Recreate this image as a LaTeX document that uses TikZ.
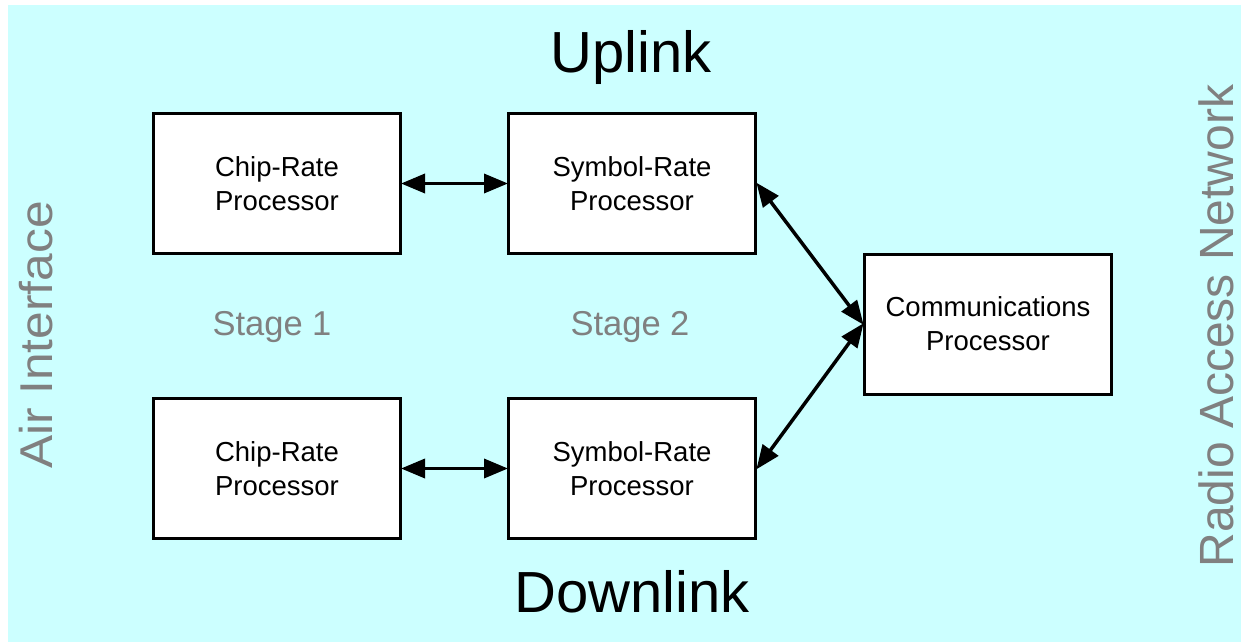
\documentclass[tikz,border=0pt]{standalone}
\usepackage{fontspec}
\setmainfont{Liberation Sans}
\usetikzlibrary{arrows.meta}
\definecolor{panelbg}{RGB}{204,255,255}
\definecolor{labelgray}{RGB}{128,128,128}
\tikzset{
  procbox/.style={draw=black, line width=3pt, fill=white, minimum width=247pt,
    minimum height=140pt, inner sep=0pt, align=center,
    font=\fontsize{27.5}{34}\selectfont},
  link/.style={line width=3.5pt,
    {Triangle[length=24pt,width=19pt]}-{Triangle[length=24pt,width=19pt]},
    shorten <=-1pt, shorten >=-1pt},
  title/.style={anchor=base, font=\fontsize{58}{60}\selectfont},
  stagelbl/.style={anchor=base, text=labelgray, font=\fontsize{34.5}{38}\selectfont},
  sidelbl/.style={anchor=base, rotate=90, text=labelgray, font=\fontsize{48}{52}\selectfont}
}
\begin{document}
\begin{tikzpicture}[x=1pt, y=-1pt]
  % page and shaded panel
  \useasboundingbox (0,0) rectangle (1241,642);
  \fill[white] (0,0) rectangle (1241,642);
  \fill[panelbg] (8,5) rectangle (1241,642);

  % processing blocks
  \node[procbox] (chipU) at (277,183.5) {Chip-Rate\\Processor};
  \node[procbox] (symU)  at (632,183.5) {Symbol-Rate\\Processor};
  \node[procbox] (chipD) at (277,468.5) {Chip-Rate\\Processor};
  \node[procbox] (symD)  at (632,468.5) {Symbol-Rate\\Processor};
  \node[procbox] (comm)  at (988,324)   {Communications\\Processor};

  % bidirectional links
  \draw[link] (chipU) -- (symU);
  \draw[link] (chipD) -- (symD);
  \draw[link] (symU.east) -- (comm.west);
  \draw[link] (symD.east) -- (comm.west);

  % headings and stage labels
  \node[title] (up)   at (631,73)  {Uplink};
  \node[title] (down) at (632,612) {Downlink};
  \node[stagelbl] (st1) at (272,335) {Stage 1};
  \node[stagelbl] (st2) at (630,335) {Stage 2};

  % side labels
  \node[sidelbl, font=\fontsize{46}{50}\selectfont, xscale=1.08] (air) at (52,335) {Air Interface};
  \node[sidelbl] (ran) at (1233,326) {Radio Access Network};
\end{tikzpicture}
\end{document}
